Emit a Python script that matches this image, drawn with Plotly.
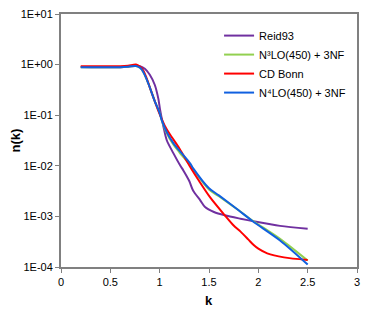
import plotly.graph_objects as go

# Reid93
k_reid = [0.2, 0.6, 0.68, 0.76, 0.8, 0.85, 0.9, 0.95, 0.987, 1.004, 1.038, 1.072, 1.14, 1.21, 1.24,
          1.3, 1.34, 1.41, 1.46, 1.55, 1.66, 1.82, 1.94, 2.22, 2.5]
n_reid = [0.9, 0.89, 0.91, 0.95, 0.93, 0.83, 0.63, 0.40, 0.21, 0.128, 0.060, 0.032, 0.0176, 0.010, 0.0081,
          0.005, 0.0032, 0.0021, 0.00153, 0.00122, 0.00105, 0.0009, 0.00081, 0.00065, 0.00057]

# N3LO(450) + 3NF
k_n3lo = [0.2, 0.4, 0.6, 0.68, 0.76, 0.8, 0.82, 0.86, 0.89, 0.95, 1.0, 1.02, 1.07, 1.14, 1.2, 1.31, 1.34,
          1.5, 1.6, 1.8, 1.94, 2.22, 2.5]
n_n3lo = [0.885, 0.885, 0.89, 0.91, 0.94, 0.87, 0.79, 0.56, 0.40, 0.19, 0.11, 0.081, 0.045, 0.026, 0.0185,
          0.0102, 0.0085, 0.0034, 0.0025, 0.00132, 0.00083, 0.00036, 0.000134]

# CD Bonn
k_cdb = [0.2, 0.6, 0.68, 0.76, 0.8, 0.83, 0.86, 0.9, 0.95, 1.0, 1.05, 1.1, 1.2, 1.31, 1.4, 1.51, 1.66,
         1.75, 1.82, 1.9, 1.95, 2.0, 2.09, 2.26, 2.5]
n_cdb = [0.93, 0.93, 0.95, 1.0, 0.91, 0.79, 0.59, 0.355, 0.19, 0.105, 0.063, 0.043, 0.022, 0.0095, 0.005,
         0.0024, 0.00105, 0.00066, 0.0005, 0.000347, 0.000275, 0.00023, 0.000186, 0.000155, 0.000138]

# N4LO(450) + 3NF
k_n4lo = [0.2, 0.4, 0.6, 0.68, 0.76, 0.8, 0.82, 0.86, 0.89, 0.95, 1.0, 1.02, 1.07, 1.14, 1.2, 1.31, 1.34,
          1.5, 1.6, 1.8, 1.94, 2.22, 2.5]
n_n4lo = [0.885, 0.885, 0.89, 0.91, 0.94, 0.87, 0.79, 0.56, 0.40, 0.19, 0.11, 0.081, 0.047, 0.0278, 0.020,
          0.0111, 0.0089, 0.0036, 0.0026, 0.00132, 0.00081, 0.000335, 0.000112]

series = [
    ("Reid93", k_reid, n_reid, "#7030A0"),
    ("N³LO(450) + 3NF", k_n3lo, n_n3lo, "#92D050"),
    ("CD Bonn", k_cdb, n_cdb, "#FF0000"),
    ("N⁴LO(450) + 3NF", k_n4lo, n_n4lo, "#1060E0"),
]

y_tickvals = [1e1, 1e0, 1e-1, 1e-2, 1e-3, 1e-4]
y_ticktext = ["1E+01", "1E+00", "1E-01", "1E-02", "1E-03", "1E-04"]
x_tickvals = [0, 0.5, 1, 1.5, 2, 2.5, 3]
x_ticktext = ["0", "0.5", "1", "1.5", "2", "2.5", "3"]

fig = go.Figure()
for name, k, n, c in series:
    fig.add_trace(go.Scatter(x=k, y=n, mode="lines", name=name,
                             line=dict(color=c, width=2, shape="spline", smoothing=0.8)))

font = "Liberation Sans, Arial, sans-serif"
W, H = 371, 313
ml, mr, mt, mb = 61, 14, 14, 46
fig.update_layout(
    width=W, height=H,
    margin=dict(l=ml, r=mr, t=mt, b=mb, autoexpand=False),
    paper_bgcolor="white", plot_bgcolor="white",
    font=dict(family=font, size=11, color="black"),
    showlegend=True,
    legend=dict(x=0.534, y=0.972, xanchor="left", yanchor="top", bgcolor="rgba(0,0,0,0)",
                font=dict(size=11), tracegroupgap=0, itemwidth=30),
    xaxis=dict(range=[0, 3], tickvals=x_tickvals, ticktext=x_ticktext, automargin=False,
               showgrid=False, zeroline=False, showline=True, linecolor="#808080", linewidth=2,
               mirror=True, ticks="outside", ticklen=4, tickcolor="#808080", tickwidth=1),
    yaxis=dict(type="log", range=[-4, 1], tickvals=y_tickvals, ticktext=y_ticktext, automargin=False,
               showgrid=False, zeroline=False, showline=True, linecolor="#808080", linewidth=2,
               mirror=True, ticks="outside", ticklen=4, tickcolor="#808080", tickwidth=1),
    annotations=[
        dict(text="<b>k</b>", xref="paper", yref="paper", x=0.5, y=-(300 - (H - mb)) / (H - mt - mb),
             xanchor="center", yanchor="middle", showarrow=False, font=dict(size=13)),
        dict(text="<b>n(k)</b>", xref="paper", yref="paper", x=-(ml - 15) / (W - ml - mr), y=0.5,
             xanchor="center", yanchor="middle", textangle=-90, showarrow=False, font=dict(size=13)),
    ],
)

fig.write_html("out.html", config={"displayModeBar": False},
               post_script="document.body.style.margin='0';document.body.style.overflow='hidden';")
